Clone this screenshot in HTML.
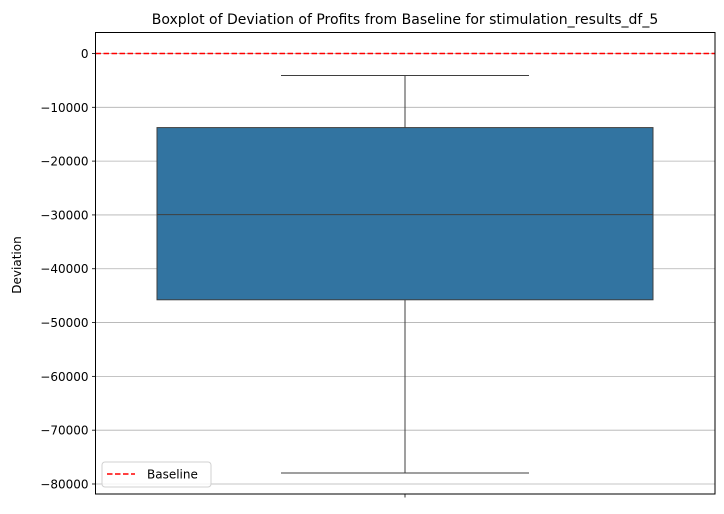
<!DOCTYPE html>
<html><head><meta charset="utf-8"><style>
body{margin:0;background:#fff;font-family:"Liberation Sans","DejaVu Sans",sans-serif;}
svg text{font-family:"DejaVu Sans","Liberation Sans",sans-serif;}
</style></head><body>
<svg id="chart" width="724" height="509" xmlns="http://www.w3.org/2000/svg">
<text x="405" y="24" font-size="14" text-anchor="middle" fill="#000">Boxplot of Deviation of Profits from Baseline for stimulation_results_df_5</text>
<text transform="translate(21,265) rotate(-90)" font-size="12" text-anchor="middle">Deviation</text>
<g id="grid"></g><g id="marks"></g><g id="axes"></g>
</svg>
<script>
const yTicks=[0,-10000,-20000,-30000,-40000,-50000,-60000,-70000,-80000];
const tickLabels=["0","−10000","−20000","−30000","−40000","−50000","−60000","−70000","−80000"];
const whiskerLow=[-77950];
const q1=[-45770];
const median=[-29950];
const q3=[-13770];
const whiskerHigh=[-4090];
const baseline=[0];
const yDomain=[-81860,3900];
const L=95.5,R=715,T=32.5,B=494;
const y=v=>B-(v-yDomain[0])/(yDomain[1]-yDomain[0])*(B-T);
const NS="http://www.w3.org/2000/svg";
function mk(tag,attrs,parent){const e=document.createElementNS(NS,tag);for(const k in attrs)e.setAttribute(k,attrs[k]);parent.appendChild(e);return e;}
const grid=document.getElementById('grid'),marks=document.getElementById('marks'),axes=document.getElementById('axes');
yTicks.forEach((t,i)=>{
 const g=mk('line',{x1:L,x2:R,y1:y(t),y2:y(t),stroke:'#b0b0b0','stroke-width':0.8},grid);
 
 
 mk('line',{x1:L-3.5,x2:L,y1:y(t),y2:y(t),stroke:'#000','stroke-width':0.8},axes);
 const tx=mk('text',{x:L-7,y:y(t)+4.5,'font-size':12,'text-anchor':'end'},axes);
 tx.textContent=tickLabels[i];
 
 
});
const cx=405,bw=496,cw=248,col='#3f3f3f';
const wl=mk('line',{x1:cx,x2:cx,y1:y(whiskerHigh[0]),y2:y(q3[0]),stroke:col,'stroke-width':1},marks);


const wl2=mk('line',{x1:cx,x2:cx,y1:y(q1[0]),y2:y(whiskerLow[0]),stroke:col,'stroke-width':1},marks);


const c1=mk('line',{x1:cx-cw/2,x2:cx+cw/2,y1:y(whiskerHigh[0]),y2:y(whiskerHigh[0]),stroke:col,'stroke-width':1},marks);


const c2=mk('line',{x1:cx-cw/2,x2:cx+cw/2,y1:y(whiskerLow[0]),y2:y(whiskerLow[0]),stroke:col,'stroke-width':1},marks);


const box=mk('rect',{x:cx-bw/2,y:y(q3[0]),width:bw,height:y(q1[0])-y(q3[0]),fill:'#3274a1',stroke:col,'stroke-width':1},marks);


const md=mk('line',{x1:cx-bw/2,x2:cx+bw/2,y1:y(median[0]),y2:y(median[0]),stroke:col,'stroke-width':1},marks);


const bl=mk('line',{x1:L,x2:R,y1:y(baseline[0]),y2:y(baseline[0]),stroke:'#ff0000','stroke-width':1.5,'stroke-dasharray':'5.5,2.5'},marks);


mk('line',{x1:cx,x2:cx,y1:B,y2:B+3.5,stroke:'#000','stroke-width':0.8},axes);
const fr=mk('rect',{x:L,y:T,width:R-L,height:B-T,fill:'none',stroke:'#000','stroke-width':1},axes);


const lg=mk('g',{},axes);


mk('rect',{x:102,y:462,width:109,height:25,rx:3,fill:'#fff','fill-opacity':0.8,stroke:'#d0d0d0','stroke-width':1},lg);
mk('line',{x1:107,x2:135,y1:474,y2:474,stroke:'#ff0000','stroke-width':1.5,'stroke-dasharray':'5.5,2.5'},lg);
const lt=mk('text',{x:147,y:478.5,'font-size':12},lg);
lt.textContent='Baseline';


</script>
</body></html>
